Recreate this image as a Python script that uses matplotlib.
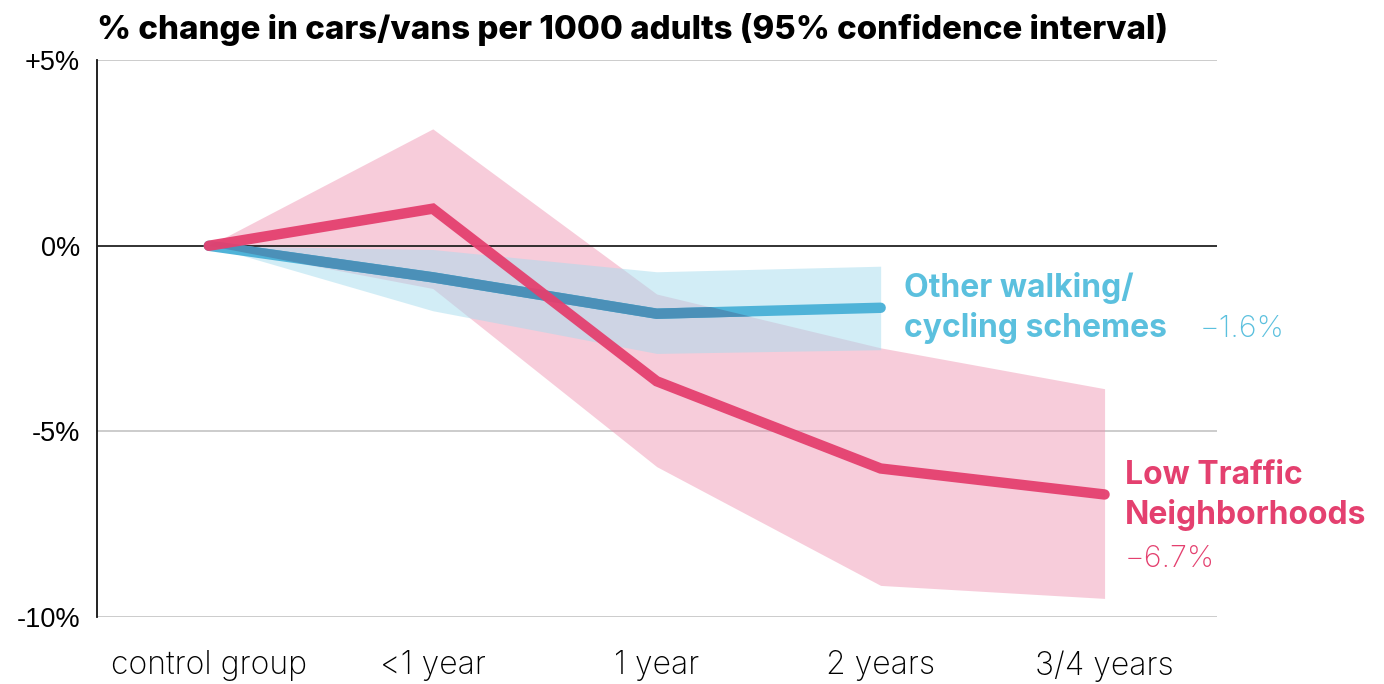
import matplotlib.pyplot as plt

# % change in cars/vans per 1000 adults
periods = ['control group', '<1 year', '1 year', '2 years', '3/4 years']

ltn = [0, 1.0, -3.65, -6.0, -6.7]
ltn_hi = [0, 3.15, -1.3, -2.75, -3.85]
ltn_lo = [0, -1.15, -5.95, -9.15, -9.5]

other = [0, -0.85, -1.83, -1.67]
other_hi = [0, -0.1, -0.7, -0.55]
other_lo = [0, -1.75, -2.9, -2.8]

yticks = [5, 0, -5, -10]
ylabels = ['+5%', '0%', '-5%', '-10%']

pink = '#E4406F'
blue = '#4FB3D8'
blue_dark = '#4B90B8'
blue_txt = '#5BC0DE'

plt.rcParams['font.family'] = ['Inter', 'DejaVu Sans']

fig = plt.figure(figsize=(13.84, 6.84), dpi=100)
ax = fig.add_axes([0.070, 0.098, 0.809, 0.814])

x_ltn = list(range(len(ltn)))
x_oth = list(range(len(other)))

band = ax.fill_between(x_ltn, ltn_lo, ltn_hi, color='#EE8FAE', alpha=0.45, lw=0, zorder=2)
ax.fill_between(x_oth, other_lo, other_hi, color='#A6DCEE', alpha=0.5, lw=0, zorder=2)
ax.plot(x_oth, other, color=blue, lw=7.5, solid_capstyle='round',
        solid_joinstyle='miter', zorder=4)
# darker where the blue line runs through the pink band
dark, = ax.plot(x_oth, other, color=blue_dark, lw=7.5, solid_capstyle='round',
                solid_joinstyle='miter', zorder=4)
dark.set_clip_path(band.get_paths()[0], transform=ax.transData)
ax.plot(x_ltn, ltn, color=pink, lw=7.5, alpha=0.95, solid_capstyle='round',
        solid_joinstyle='miter', zorder=5)

ax.axhline(0, color='#222222', lw=1.3, zorder=3)
for v in [5, -5, -10]:
    ax.axhline(v, color='#C8C8C8', lw=1.3, zorder=1)

ax.set_xlim(-0.5, 4.5)
ax.set_ylim(-10, 5)
ax.set_yticks(yticks)
ax.set_yticklabels(ylabels, fontsize=19.5, family='Liberation Sans')
ax.set_xticks(x_ltn)
ax.set_xticklabels(periods, fontsize=23, fontweight='light')
ax.tick_params(length=0)
ax.tick_params(axis='x', pad=24)
ax.tick_params(axis='y', pad=12)
for s in ['top', 'right', 'bottom']:
    ax.spines[s].set_visible(False)
ax.spines['left'].set_color('#111111')
ax.spines['left'].set_linewidth(1.3)

fig.text(0.070, 0.957, '% change in cars/vans per 1000 adults (95% confidence interval)',
         fontsize=23.8, fontweight='heavy', va='center', ha='left')

ax.text(3.106, -1.37, 'Other walking/', color=blue_txt, fontsize=23,
        fontweight='bold', va='baseline', ha='left')
ax.text(3.106, -2.45, 'cycling schemes', color=blue_txt, fontsize=23,
        fontweight='bold', va='baseline', ha='left')
ax.text(4.425, -2.45, '\u22121.6%', color=blue_txt, fontsize=22, fontweight='light',
        va='baseline', ha='left')
ax.text(4.089, -6.41, 'Low Traffic', color=pink, fontsize=23,
        fontweight='bold', va='baseline', ha='left')
ax.text(4.089, -7.49, 'Neighborhoods', color=pink, fontsize=23,
        fontweight='bold', va='baseline', ha='left')
ax.text(4.089, -8.65, '\u22126.7%', color=pink, fontsize=22, fontweight='light',
        va='baseline', ha='left')

fig.savefig('out.png', dpi=100)
